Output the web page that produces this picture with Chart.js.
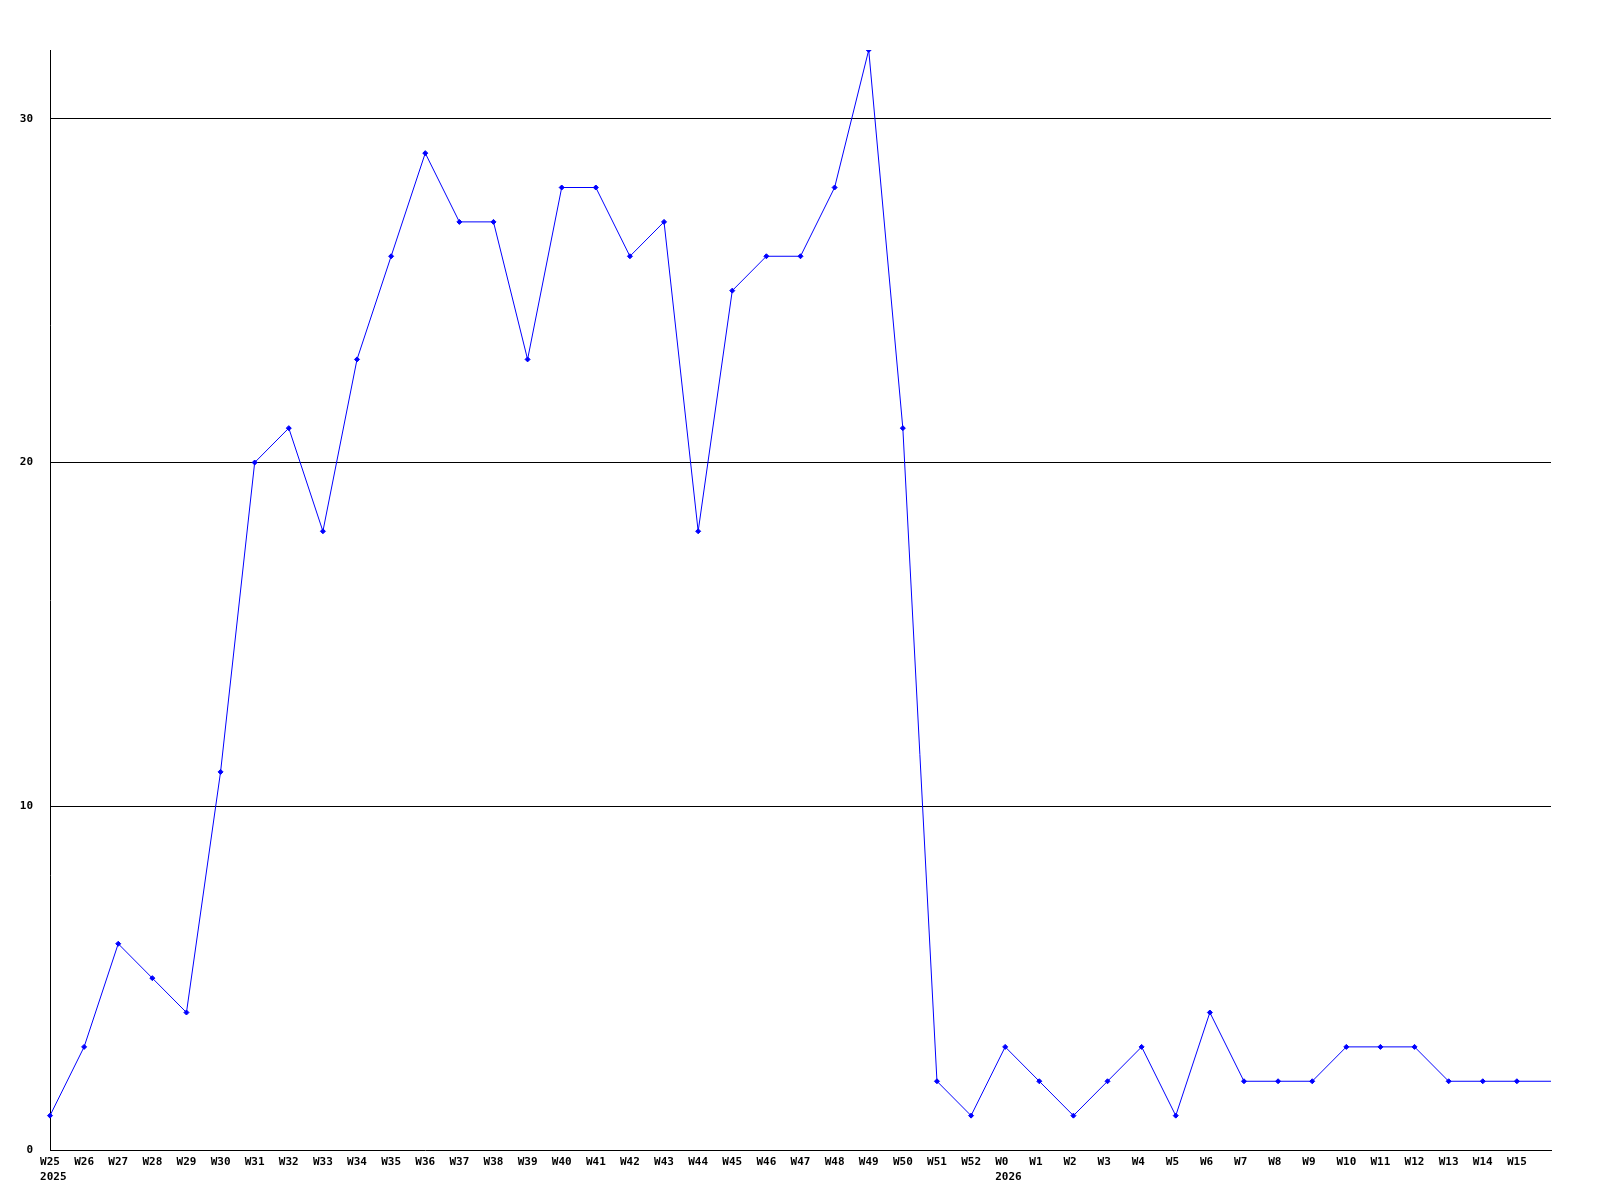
<!DOCTYPE html>
<html>
<head>
<meta charset="utf-8">
<script src="https://cdn.jsdelivr.net/npm/chart.js@4/dist/chart.umd.min.js"></script>
<style>
  html, body { margin: 0; padding: 0; background: #fff; }
  #wrap { width: 1600px; height: 1200px; }
</style>
</head>
<body>
<div id="wrap"><canvas id="chart" width="1600" height="1200"></canvas></div>
<script>
// weeks on the x axis (last one runs off the edge, no label)
const weeks = [
  'W25','W26','W27','W28','W29','W30','W31','W32','W33','W34','W35','W36','W37','W38',
  'W39','W40','W41','W42','W43','W44','W45','W46','W47','W48','W49','W50','W51','W52',
  'W0','W1','W2','W3','W4','W5','W6','W7','W8','W9','W10','W11','W12','W13','W14','W15',''
];
const counts = [
  1, 3, 6, 5, 4, 11, 20, 21, 18, 23, 26, 29, 27, 27,
  23, 28, 28, 26, 27, 18, 25, 26, 26, 28, 32, 21, 2, 1,
  3, 2, 1, 2, 3, 1, 4, 2, 2, 2, 3, 3, 3, 2, 2, 2, 2
];
// year markers under the week labels
const yearAt = { 'W25': '2025', 'W0': '2026' };
const yTicks = [0, 10, 20, 30];

const MONO = '"DejaVu Sans Mono", "Liberation Mono", monospace';
const FONT = 'bold 11px ' + MONO;

// labels start a fixed distance left of the tick: pad them to 3 chars
const padLabel = (s) => s === '' ? '' : s.padEnd(3, ' ');

// draws the year under its week label, left aligned with the week text
const yearLabels = {
  id: 'yearLabels',
  afterDraw(chart) {
    const ctx = chart.ctx;
    const x = chart.scales.x;
    ctx.save();
    ctx.font = FONT;
    ctx.fillStyle = '#000';
    ctx.textBaseline = 'middle';
    ctx.textAlign = 'left';
    const half = ctx.measureText('W25').width / 2;
    weeks.forEach((w, i) => {
      if (!yearAt[w]) return;
      const px = x.getPixelForValue(i);
      ctx.fillText(yearAt[w], px - half, x.top + 27);
    });
    ctx.restore();
  }
};

new Chart(document.getElementById('chart'), {
  type: 'line',
  data: {
    labels: weeks,
    datasets: [{
      data: counts,
      borderColor: '#0000ff',
      backgroundColor: '#0000ff',
      borderWidth: 1,
      tension: 0,
      fill: false,
      pointStyle: 'rectRot',
      pointRadius: counts.map((v, i) => weeks[i] === '' ? 0 : 2.5),
      pointBorderWidth: 1,
      pointBorderColor: '#0000ff',
      pointBackgroundColor: '#0000ff'
    }]
  },
  options: {
    responsive: false,
    animation: false,
    layout: { padding: { top: 50, right: 49, left: 0, bottom: 0 } },
    plugins: {
      legend: { display: false },
      tooltip: { enabled: false }
    },
    scales: {
      x: {
        type: 'category',
        offset: false,
        afterFit: (s) => { s.height = 50; },
        grid: { display: false, drawTicks: false },
        border: { display: true, color: '#000', width: 1 },
        ticks: {
          autoSkip: false,
          maxRotation: 0,
          minRotation: 0,
          padding: 6,
          color: '#000',
          font: { family: MONO, size: 11, weight: 'bold' },
          callback: (v, i) => padLabel(weeks[i])
        }
      },
      y: {
        min: 0,
        max: 32,
        afterFit: (s) => { s.width = 50; },
        afterBuildTicks: (s) => { s.ticks = yTicks.map(v => ({ value: v })); },
        grid: {
          color: (c) => c.tick && c.tick.value === 0 ? 'rgba(0,0,0,0)' : '#000',
          lineWidth: 1,
          drawTicks: false
        },
        border: { display: true, color: '#000', width: 1 },
        ticks: {
          padding: 17,
          color: '#000',
          font: { family: MONO, size: 11, weight: 'bold' }
        }
      }
    }
  },
  plugins: [yearLabels]
});
</script>
</body>
</html>
